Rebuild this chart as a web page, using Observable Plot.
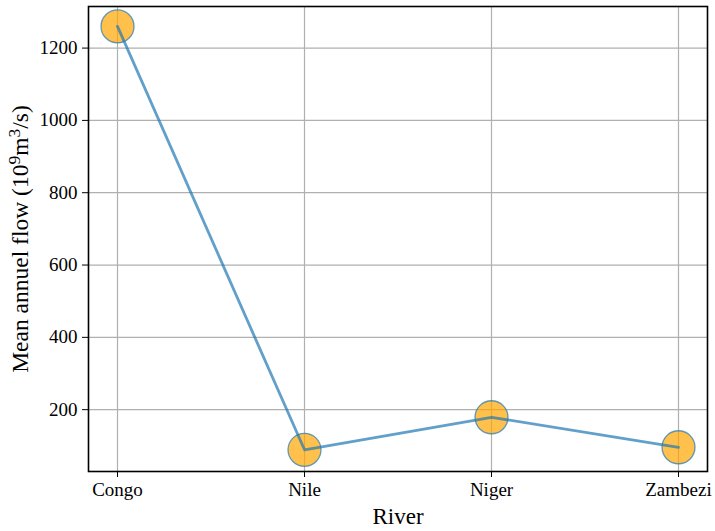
<!DOCTYPE html>
<html><head><meta charset="utf-8">
<script src="https://cdn.jsdelivr.net/npm/d3@7"></script>
<script src="https://cdn.jsdelivr.net/npm/@observablehq/plot@0.6"></script>
<style>body{margin:0;background:#fff}</style>
</head><body><div id="chart"></div>
<script>
const rivers = ["Congo", "Nile", "Niger", "Zambezi"];
const flows = [1260, 89, 179, 96];
const yTicks = [200, 400, 600, 800, 1000, 1200];
const xLabel = "River";
const yLabel = "Mean annuel flow (10^9m^3/s)";

const data = rivers.map((r, i) => ({river: r, flow: flows[i]}));

const chart = Plot.plot({
  width: 715, height: 531,
  marginLeft: 88, marginRight: 8, marginTop: 6, marginBottom: 60,
  style: {fontFamily: "'Liberation Serif', 'Times New Roman', serif", fontSize: "19px", color: "#000", background: "#fff"},
  x: {type: "point", domain: rivers, padding: 0.15, label: null},
  y: {domain: [29, 1315], label: null},
  marks: [
    Plot.gridX(rivers, {stroke: "#b0b0b0", strokeOpacity: 1, strokeWidth: 1.2}),
    Plot.gridY(yTicks, {stroke: "#b0b0b0", strokeOpacity: 1, strokeWidth: 1.2}),
    Plot.dot(data, {x: "river", y: "flow", r: 16.5, fill: "#ffa500", fillOpacity: 0.7, stroke: "#1f77b4", strokeOpacity: 0.7, strokeWidth: 1.3}),
    Plot.line(data, {x: "river", y: "flow", stroke: "#1f77b4", strokeOpacity: 0.7, strokeWidth: 2.8}),
    Plot.frame({stroke: "#000", strokeWidth: 1.6}),
    Plot.axisX(rivers, {tickSize: 6, tickPadding: 5, label: null, fontSize: 19}),
    Plot.axisY(yTicks, {tickSize: 6, tickPadding: 5, label: null, fontSize: 19, tickFormat: d => String(d)}),
    Plot.text([xLabel], {frameAnchor: "bottom", dy: 45, fontSize: 23, lineAnchor: "middle", textAnchor: "middle"}),
    Plot.text([yLabel], {frameAnchor: "left", dx: -68, rotate: -90, fontSize: 23.5, lineAnchor: "middle", textAnchor: "middle"})
  ]
});
document.getElementById("chart").appendChild(chart);

// Render superscripts in the y label as real tspans
d3.select(chart).selectAll("text").each(function() {
  const t = d3.select(this);
  if (t.text() !== yLabel) return;
  t.text(null);
  const parts = [["Mean annuel flow (10", false], ["9", true], ["m", false], ["3", true], ["/s)", false]];
  let prevSup = false;
  parts.forEach(([s, sup]) => {
    const ts = t.append("tspan").text(s);
    if (sup) ts.attr("font-size", "75%");
    if (sup && !prevSup) ts.attr("dy", "-0.45em");
    else if (!sup && prevSup) ts.attr("dy", "0.34em");
    prevSup = sup;
  });
});
</script></body></html>
